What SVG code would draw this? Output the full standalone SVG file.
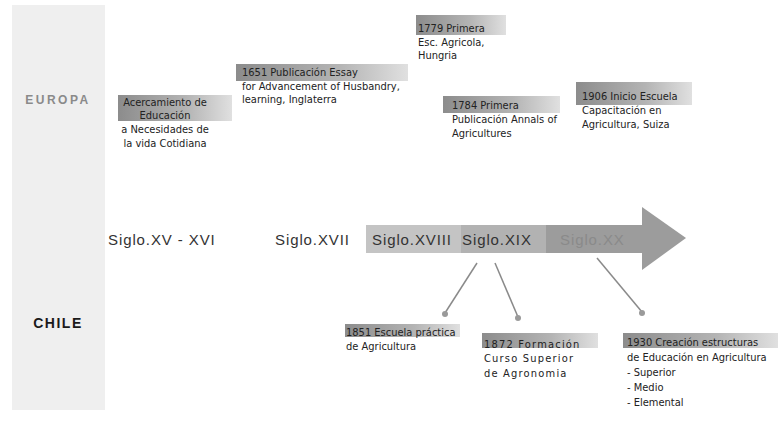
<svg xmlns="http://www.w3.org/2000/svg" width="778" height="423" viewBox="0 0 778 423">
<defs>
<linearGradient id="hdr" x1="0" y1="0" x2="1" y2="0">
<stop offset="0" stop-color="#8c8c8c"/>
<stop offset="0.6" stop-color="#b4b4b4"/>
<stop offset="1" stop-color="#e0e0e0"/>
</linearGradient>
</defs>
<style>
.t{font-family:"DejaVu Sans Condensed","DejaVu Sans",sans-serif;font-stretch:condensed;font-size:11px;fill:#222}
.s{font-family:"Liberation Sans",Arial,sans-serif;font-size:15px;letter-spacing:0.9px;fill:#333}
.hb{fill:url(#hdr)}
.ln{stroke:#8a8a8a;stroke-width:1.5;fill:none}
.dot{fill:#9a9a9a}
</style>
<rect width="778" height="423" fill="#ffffff"/>
<rect x="12" y="5" width="93" height="405" fill="#efefef"/>
<text x="58" y="104" text-anchor="middle" font-family="Liberation Sans,Arial,sans-serif" font-weight="bold" font-size="12" letter-spacing="2.5" fill="#8a8a8a">EUROPA</text>
<text x="58" y="328" text-anchor="middle" font-family="Liberation Sans,Arial,sans-serif" font-weight="bold" font-size="14" letter-spacing="1.5" fill="#1a1a1a">CHILE</text>

<g id="arrow">
<rect x="366" y="225" width="95" height="28" fill="#c4c4c4"/>
<rect x="461" y="225" width="85" height="28" fill="#b2b2b2"/>
<rect x="546" y="225" width="97" height="28" fill="#9c9c9c"/>
<polygon points="642,207 686,238 642,270" fill="#9c9c9c"/>
</g>
<g id="siglos">
<text class="s" x="108" y="245">Siglo.XV - XVI</text>
<text class="s" x="275" y="245">Siglo.XVII</text>
<text class="s" x="372" y="245">Siglo.XVIII</text>
<text class="s" x="462" y="245">Siglo.XIX</text>
<text class="s" x="560" y="245" style="fill:#8a8a8a">Siglo.XX</text>
</g>

<g id="connectors">
<line class="ln" x1="477" y1="263" x2="445" y2="313"/>
<circle class="dot" cx="445" cy="314" r="3"/>
<line class="ln" x1="495" y1="263" x2="518" y2="317"/>
<circle class="dot" cx="518" cy="318" r="3"/>
<line class="ln" x1="597" y1="258" x2="642" y2="312"/>
<circle class="dot" cx="642" cy="313" r="3"/>
</g>

<g id="e1">
<rect class="hb" x="118" y="95" width="114" height="26"/>
<text class="t" text-anchor="middle"><tspan x="165" y="106">Acercamiento de</tspan><tspan x="165" y="119">Educación</tspan><tspan x="165" y="133">a Necesidades de</tspan><tspan x="165" y="147">la vida Cotidiana</tspan></text>
</g>
<g id="e2">
<rect class="hb" x="236" y="64" width="172" height="17"/>
<text class="t"><tspan x="242" y="76">1651 Publicación Essay</tspan><tspan x="242" y="90">for Advancement of Husbandry,</tspan><tspan x="242" y="103">learning, Inglaterra</tspan></text>
</g>
<g id="e3">
<rect class="hb" x="416" y="15" width="90" height="20"/>
<text class="t"><tspan x="418" y="32">1779 Primera</tspan><tspan x="418" y="46">Esc. Agricola,</tspan><tspan x="418" y="59">Hungria</tspan></text>
</g>
<g id="e4">
<rect class="hb" x="443" y="96" width="117" height="17"/>
<text class="t"><tspan x="452" y="109">1784 Primera</tspan><tspan x="452" y="123">Publicación Annals of</tspan><tspan x="452" y="137">Agricultures</tspan></text>
</g>
<g id="e5">
<rect class="hb" x="576" y="82" width="116" height="23"/>
<text class="t"><tspan x="582" y="100">1906 Inicio Escuela</tspan><tspan x="582" y="114">Capacitación en</tspan><tspan x="582" y="128">Agricultura, Suiza</tspan></text>
</g>

<g id="c1">
<rect class="hb" x="345" y="324" width="115" height="13"/>
<text class="t"><tspan x="346" y="336">1851 Escuela práctica</tspan><tspan x="346" y="350">de Agricultura</tspan></text>
</g>
<g id="c2">
<rect class="hb" x="482" y="333" width="116" height="15"/>
<text class="t" letter-spacing="1.2"><tspan x="484" y="348">1872 Formación</tspan><tspan x="484" y="362">Curso Superior</tspan><tspan x="484" y="377">de Agronomia</tspan></text>
</g>
<g id="c3">
<rect class="hb" x="623" y="333" width="155" height="15"/>
<text class="t"><tspan x="627" y="346">1930 Creación estructuras</tspan><tspan x="627" y="361">de Educación en Agricultura</tspan><tspan x="627" y="376">- Superior</tspan><tspan x="627" y="391">- Medio</tspan><tspan x="627" y="406">- Elemental</tspan></text>
</g>
</svg>
